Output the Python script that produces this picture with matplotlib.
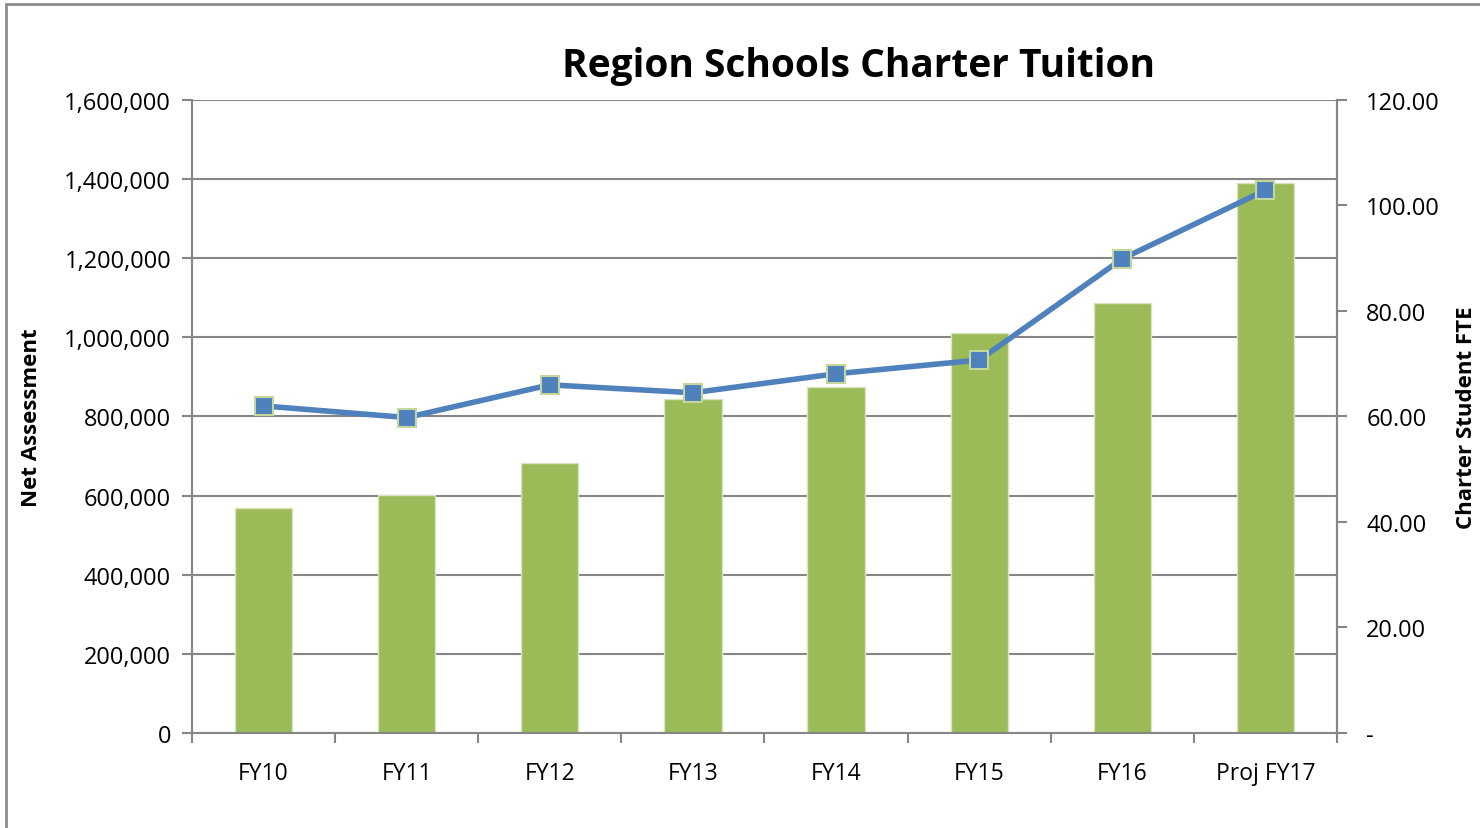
import matplotlib.pyplot as plt
from matplotlib.ticker import FuncFormatter, MultipleLocator
from matplotlib.patches import Rectangle
import numpy as np

plt.rcParams['font.family'] = ['Open Sans', 'DejaVu Sans']

years = ['FY10', 'FY11', 'FY12', 'FY13', 'FY14', 'FY15', 'FY16', 'Proj FY17']
net_assessment = [569000, 602000, 682000, 844000, 875000, 1011000, 1087000, 1390000]
charter_fte = [62.0, 59.8, 66.0, 64.5, 68.1, 70.7, 89.9, 102.9]

bar_color = '#9BBB59'
line_color = '#4F81BD'
axis_gray = '#868686'

fig = plt.figure(figsize=(14.8, 8.29), dpi=100)
ax = fig.add_axes([0.1297, 0.1146, 0.9034 - 0.1297, 0.8782 - 0.1146])
fig.patches.append(Rectangle((0.004, -0.01), 1.1, 1.0036, transform=fig.transFigure,
                             fill=False, edgecolor='#8c8c8c', linewidth=2))

x = np.arange(len(years))
ax.bar(x, net_assessment, width=0.4, color=bar_color, edgecolor='#d7e4bd', linewidth=1, zorder=2)
ax.set_xlim(-0.5, len(years) - 0.5)
ax.set_ylim(0, 1600000)
ax.yaxis.set_major_locator(MultipleLocator(200000))
ax.yaxis.set_major_formatter(FuncFormatter(lambda v, p: f'{int(v):,}'))
ax.grid(axis='y', color=axis_gray, linewidth=1.5, zorder=0)
ax.set_axisbelow(True)

ax.set_xticks(x)
ax.set_xticklabels(years)
ax.set_xticks(np.arange(-0.5, len(years)), minor=True)
ax.tick_params(axis='x', which='major', length=0, labelsize=16.5, pad=20)
ax.tick_params(axis='x', which='minor', length=7, width=1.5, color=axis_gray, direction='out')
ax.tick_params(axis='y', length=7, width=1.5, color=axis_gray, labelsize=17, pad=8)

ax.spines['top'].set_visible(False)
for s in ['left', 'right', 'bottom']:
    ax.spines[s].set_color(axis_gray)
    ax.spines[s].set_linewidth(1.5)

ax2 = ax.twinx()
ax2.plot(x, charter_fte, color=line_color, linewidth=4, marker='s', markersize=13,
         markerfacecolor=line_color, markeredgecolor='#c3d69b', markeredgewidth=1.5, zorder=3)
ax2.set_ylim(0, 120)
ax2.yaxis.set_major_locator(MultipleLocator(20))
ax2.yaxis.set_major_formatter(FuncFormatter(lambda v, p: '-' if v == 0 else f'{v:.2f}'))
ax2.tick_params(axis='y', length=7, width=1.5, color=axis_gray, labelsize=17, pad=14)
for s in ['top', 'left', 'bottom']:
    ax2.spines[s].set_visible(False)
ax2.spines['right'].set_color(axis_gray)
ax2.spines['right'].set_linewidth(1.5)

fig.text(32 / 1480, 1 - 418 / 829, 'Net Assessment', fontsize=16, fontweight='bold',
         rotation=90, ha='center', va='center')
fig.text(1467 / 1480, 1 - 418 / 829, 'Charter Student FTE', fontsize=16, fontweight='bold',
         rotation=90, ha='center', va='center')
fig.text(859 / 1480, 1 - 67 / 829, 'Region Schools Charter Tuition', fontsize=28, fontweight='bold',
         ha='center', va='center')

fig.savefig('out.png', dpi=100)
